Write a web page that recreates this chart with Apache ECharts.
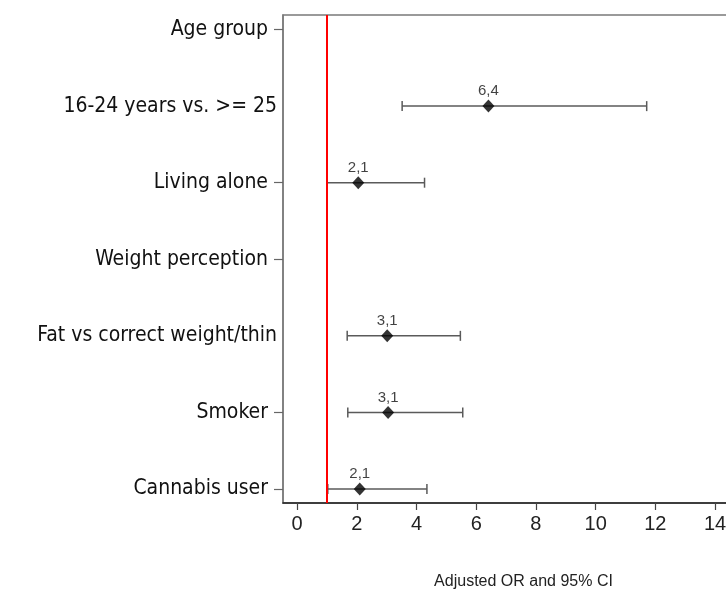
<!DOCTYPE html>
<html><head><meta charset="utf-8">
<script src="https://cdn.jsdelivr.net/npm/echarts@6/dist/echarts.min.js"></script>
<style>html,body{margin:0;padding:0;background:#fff}#c{width:726px;height:590px}</style>
</head><body><div id="c"></div>
<script>
var categories = ['Cannabis user','Smoker','Fat vs correct weight/thin','Weight perception','Living alone','16-24 years vs. >= 25','Age group'];
var estimates = [2.1, 3.05, 3.02, null, 2.05, 6.41, null];
var lower = [1.03, 1.70, 1.68, null, 1.0, 3.52, null];
var upper = [4.35, 5.55, 5.47, null, 4.27, 11.71, null];
var labels = ['2,1','3,1','3,1','','2,1','6,4',''];
var xTicks = [0,2,4,6,8,10,12,14];
var refLine = 1;

var chart = echarts.init(document.getElementById('c'));
var pts = [], bars = [];
for (var i = 0; i < categories.length; i++) {
  if (estimates[i] != null) {
    pts.push({value:[estimates[i], i], label:labels[i]});
    bars.push([lower[i], upper[i], i]);
  }
}
var tickIdx = [0,1,3,4,6];
var longIdx = {2:1,5:1};
var yFont = '"DejaVu Sans Condensed", sans-serif';
var aFont = '"Liberation Sans", Arial, sans-serif';
chart.setOption({
  animation:false,
  grid:{left:283, top:15, bottom:87, right:-4, show:true, borderColor:'#7a7a7a', borderWidth:1.5,
    containLabel:false, outerBoundsMode:'none'},
  xAxis:{type:'value', min:-0.47, max:14.5,
    axisLine:{show:true, onZero:false, lineStyle:{color:'#222', width:1.5}},
    axisTick:{show:true, customValues:xTicks, length:7, lineStyle:{color:'#444', width:1.2}},
    axisLabel:{customValues:xTicks, fontFamily:aFont, fontSize:20, color:'#222', margin:11},
    splitLine:{show:false},
    name:'Adjusted OR and 95% CI', nameLocation:'middle', nameGap:71,
    nameTextStyle:{fontFamily:aFont, fontSize:16, color:'#222', padding:[0,0,0,34]}
  },
  yAxis:{type:'value', min:-0.183, max:6.19,
    axisLine:{show:true, onZero:false, lineStyle:{color:'#7a7a7a', width:1.5}},
    axisTick:{show:true, customValues:tickIdx, length:9, lineStyle:{color:'#666', width:1.2}},
    axisLabel:{customValues:[0,1,2,3,4,5,6], margin:6,
      formatter:function(v){var k=Math.round(v); return longIdx[k] ? '{l|'+categories[k]+'}' : '{s|'+categories[k]+'}';},
      rich:{
        l:{fontFamily:yFont, fontSize:21, color:'#111'},
        s:{fontFamily:yFont, fontSize:21, color:'#111', padding:[0,9,0,0]}
      }},
    splitLine:{show:false}
  },
  series:[
    {type:'custom', data:bars, z:2,
      renderItem:function(params, api){
        var a = api.coord([api.value(0), api.value(2)]);
        var b = api.coord([api.value(1), api.value(2)]);
        var h = 5;
        var st = {stroke:'#5a5a5a', lineWidth:1.5};
        return {type:'group', children:[
          {type:'line', shape:{x1:a[0], y1:a[1], x2:b[0], y2:b[1]}, style:st},
          {type:'line', shape:{x1:a[0], y1:a[1]-h, x2:a[0], y2:a[1]+h}, style:st},
          {type:'line', shape:{x1:b[0], y1:b[1]-h, x2:b[0], y2:b[1]+h}, style:st}
        ]};
      }
    },
    {type:'scatter', data:pts, symbol:'diamond', symbolSize:[12,13], z:3,
      itemStyle:{color:'#000'},
      label:{show:true, position:'top', distance:1, formatter:function(p){return p.data.label;},
        fontFamily:aFont, fontSize:15, color:'#111'},
      markLine:{silent:true, symbol:'none', label:{show:false},
        lineStyle:{color:'#ff0000', type:'solid', width:2},
        data:[{xAxis:refLine}]}
    }
  ]
});
</script></body></html>
